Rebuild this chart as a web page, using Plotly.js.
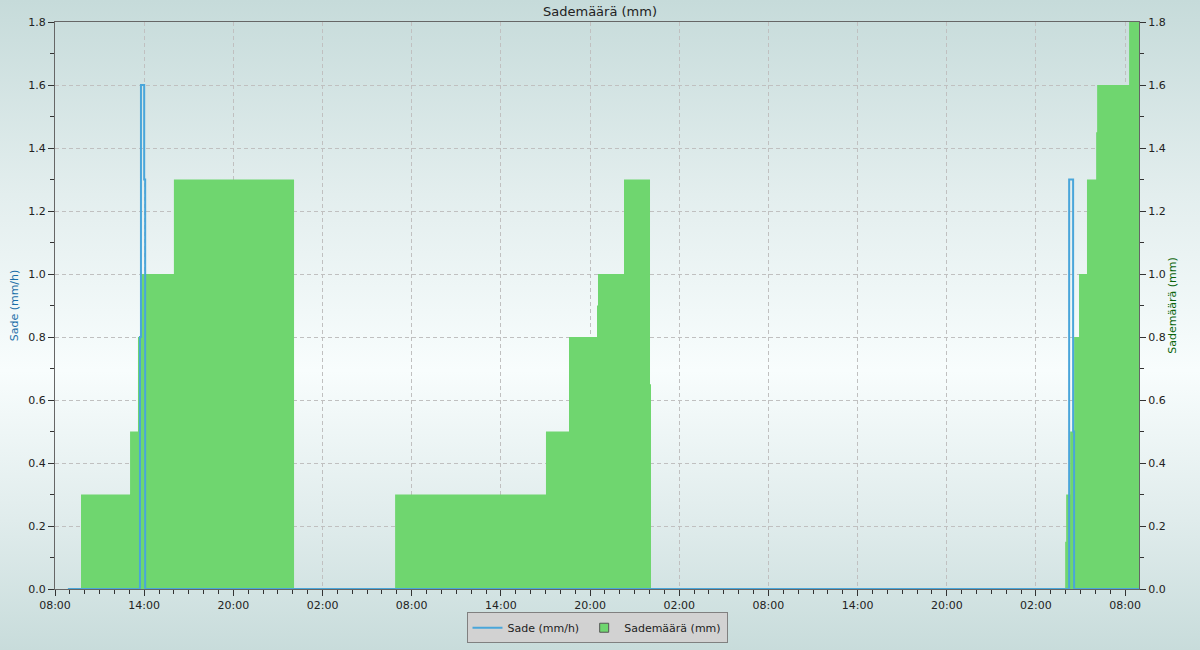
<!DOCTYPE html>
<html>
<head>
<meta charset="utf-8">
<script src="https://cdn.plot.ly/plotly-3.0.1.min.js"></script>
<style>
  html, body { margin:0; padding:0; width:1200px; height:650px; overflow:hidden;
    background: linear-gradient(to bottom, #c6dbda 0%, #e3eeee 30%, #f8fdfd 57%, #e0ecec 80%, #c8dcdb 100%); }
  #chart { width:1200px; height:650px; }
</style>
</head>
<body>
<div id="chart"></div>
<script>
// Sade (mm/h) - rain intensity, step line
const sadeTimes = [
  "2024-06-10 08:52", "2024-06-10 13:43", "2024-06-10 13:47", "2024-06-10 14:00", "2024-06-10 14:04",
  "2024-06-13 04:14", "2024-06-13 04:30", "2024-06-13 04:34", "2024-06-13 08:56"
];
const sadeValues = [0, 0.8, 1.6, 1.3, 0, 1.3, 0.5, 0, 0];

// Sademäärä (mm) - cumulative daily rain, filled step area
const maaraTimes = [
  "2024-06-10 09:45", "2024-06-10 13:03", "2024-06-10 13:35", "2024-06-10 13:47", "2024-06-10 16:00", "2024-06-11 00:05",
  "2024-06-11 06:53", "2024-06-11 17:02", "2024-06-11 18:35", "2024-06-11 20:28", "2024-06-11 20:32", "2024-06-11 22:17",
  "2024-06-12 00:02", "2024-06-12 00:06",
  "2024-06-13 03:58", "2024-06-13 04:02", "2024-06-13 04:18", "2024-06-13 04:34", "2024-06-13 04:54", "2024-06-13 05:26",
  "2024-06-13 06:03", "2024-06-13 06:07", "2024-06-13 08:16", "2024-06-13 08:56"
];
const maaraValues = [
  0.3, 0.5, 0.8, 1.0, 1.3, 0,
  0.3, 0.5, 0.8, 0.9, 1.0, 1.3,
  0.65, 0,
  0.15, 0.3, 0.5, 0.8, 1.0, 1.3,
  1.45, 1.6, 1.8, 1.8
];

const seriesNames = ["Sade (mm/h)", "Sademäärä (mm)"];
const xRange = ["2024-06-10 08:00", "2024-06-13 08:56"];
const yRange = [0, 1.8];

const BLUE = "#4aa6da", GREEN = "#6fd66f";

const traces = [
  {
    name: seriesNames[0],
    x: sadeTimes, y: sadeValues,
    type: "scatter", mode: "lines",
    line: { shape: "hv", color: BLUE, width: 2 },
    yaxis: "y", showlegend: false
  },
  {
    name: seriesNames[1],
    x: maaraTimes, y: maaraValues,
    type: "scatter", mode: "lines",
    line: { shape: "hv", color: GREEN, width: 0 },
    fill: "tozeroy", fillcolor: GREEN,
    yaxis: "y2", showlegend: false
  },
  // legend entries
  {
    name: seriesNames[0], x: [null], y: [null],
    type: "scatter", mode: "lines",
    line: { color: BLUE, width: 2 }, yaxis: "y", showlegend: true
  },
  {
    name: seriesNames[1], x: [null], y: [null],
    type: "scatter", mode: "markers",
    marker: { symbol: "square", size: 9, color: GREEN, line: { color: "#555", width: 1 } },
    yaxis: "y2", showlegend: true
  }
];

const tickFont = { family: "DejaVu Sans", size: 11, color: "#222" };
const gridStyle = { showgrid: true, gridcolor: "#c0c0c0", griddash: "4px,3px", gridwidth: 1 };

const layout = {
  width: 1200, height: 650,
  margin: { l: 55, r: 61, t: 22, b: 61, autoexpand: false },
  paper_bgcolor: "rgba(0,0,0,0)",
  plot_bgcolor: "rgba(0,0,0,0)",
  font: { family: "DejaVu Sans", size: 11, color: "#222" },
  title: { text: "Sademäärä (mm)", x: 0.5, xanchor: "center", y: 0.983, yanchor: "middle",
           font: { family: "DejaVu Sans", size: 13, color: "#222" } },
  showlegend: true,
  legend: {
    orientation: "h", x: 0.5, xanchor: "center", y: -0.041, yanchor: "top",
    bgcolor: "#d2d2d2", bordercolor: "#808080", borderwidth: 1,
    font: { family: "DejaVu Sans", size: 11, color: "#222" },
    itemwidth: 30, tracegroupgap: 0,
    traceorder: "normal"
  },
  xaxis: Object.assign({
    type: "date", range: xRange,
    tick0: "2024-06-10 08:00", dtick: 6 * 3600 * 1000,
    tickformat: "%H:%M",
    ticks: "outside", ticklen: 6, tickcolor: "#333", tickwidth: 1,
    showline: true, linecolor: "#666", linewidth: 1, mirror: true,
    tickfont: tickFont, zeroline: false,
    minor: { dtick: 3600 * 1000, ticks: "outside", ticklen: 4, tickcolor: "#333", showgrid: false }
  }, gridStyle),
  yaxis2: Object.assign({
    range: yRange, dtick: 0.2, tick0: 0, tickformat: ".1f",
    side: "right", anchor: "x",
    ticks: "outside", ticklen: 6, tickcolor: "#333",
    showline: true, linecolor: "#666", linewidth: 1,
    tickfont: tickFont, zeroline: false,
    minor: { dtick: 0.1, ticks: "outside", ticklen: 4, tickcolor: "#333", showgrid: false },
    title: { text: "Sademäärä (mm)", font: { family: "DejaVu Sans", size: 11, color: "#0a640a" }, standoff: 3 }
  }, gridStyle),
  yaxis: {
    range: yRange, dtick: 0.2, tick0: 0, tickformat: ".1f",
    side: "left", overlaying: "y2", anchor: "x",
    ticks: "outside", ticklen: 6, tickcolor: "#333",
    showline: true, linecolor: "#666", linewidth: 1,
    showgrid: false,
    tickfont: tickFont, zeroline: false,
    minor: { dtick: 0.1, ticks: "outside", ticklen: 4, tickcolor: "#333", showgrid: false },
    title: { text: "Sade (mm/h)", font: { family: "DejaVu Sans", size: 11, color: "#1a6ea8" }, standoff: 7 }
  }
};

Plotly.newPlot("chart", traces, layout, { displayModeBar: false, staticPlot: true });
</script>
</body>
</html>
